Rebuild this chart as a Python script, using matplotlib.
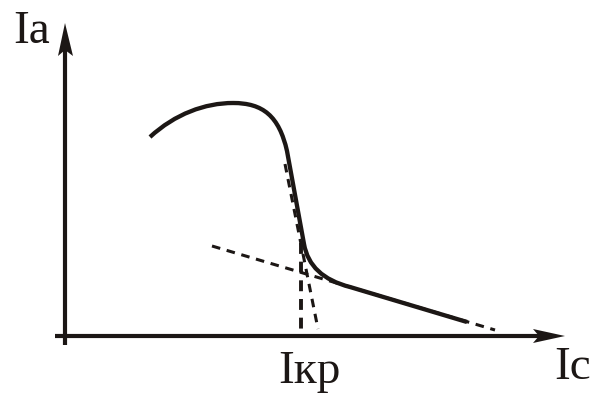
import matplotlib.pyplot as plt
import numpy as np
from matplotlib.path import Path
from matplotlib.patches import PathPatch

ink = '#1c1715'

# characteristic curve: start, rounded top, steep fall, knee, shallow tail
curve_pts = [(85, 199), (110, 222), (140, 233), (168, 233),
             (198, 233), (214, 220), (222, 185),
             (239, 92),
             (243, 70), (258, 56), (285, 49),
             (402, 14)]
curve_codes = [Path.MOVETO, Path.CURVE4, Path.CURVE4, Path.CURVE4,
               Path.CURVE4, Path.CURVE4, Path.CURVE4,
               Path.LINETO,
               Path.CURVE4, Path.CURVE4, Path.CURVE4,
               Path.LINETO]

# tangent to the steep part
steep_x = [220, 253]
steep_y = [172, 7]
# tangent to the shallow part
shallow_x = [147, 430]
shallow_y = [90, 6]
# drop line to the critical point
drop_x = [236, 236]
drop_y = [93, 0]

# axis shafts and their dart-shaped heads
x_axis = ([-10, 474], [0, 0])
y_axis = ([0, 0], [-9, 286])
x_head = ([500, 468, 474, 468], [0, 7, 0, -7])
y_head = ([0, -7, 0, 8], [313, 280, 286, 280])

fig = plt.figure(figsize=(5.93, 3.98), dpi=100)
ax = fig.add_axes([0, 0, 1, 1])
ax.set_xlim(-65, 528)
ax.set_ylim(-62, 336)
ax.axis('off')

ax.add_patch(PathPatch(Path(curve_pts, curve_codes), fill=False,
                       lw=3.1, color=ink, capstyle='butt', zorder=3))

dash = dict(color=ink, lw=2.2, linestyle=(0, (2.8, 2.2)), zorder=2)
ax.plot(steep_x, steep_y, **dash)
ax.plot(shallow_x, shallow_y, **dash)
ax.plot(drop_x, drop_y, color=ink, lw=2.8, linestyle=(0, (2.8, 2.0)), zorder=2)

ax.plot(*x_axis, color=ink, lw=3.0, solid_capstyle='butt', zorder=4)
ax.plot(*y_axis, color=ink, lw=3.0, solid_capstyle='butt', zorder=4)
ax.fill(*x_head, color=ink, lw=0, zorder=4)
ax.fill(*y_head, color=ink, lw=0, zorder=4)

font = dict(family='Liberation Serif', fontsize=34, color=ink, va='baseline')
ax.text(-52, 293, 'Ia', **font)
ax.text(489, -43, 'Ic', **font)
ax.text(213, -47, 'Iкр', **font)

fig.savefig('out.png', dpi=100)
